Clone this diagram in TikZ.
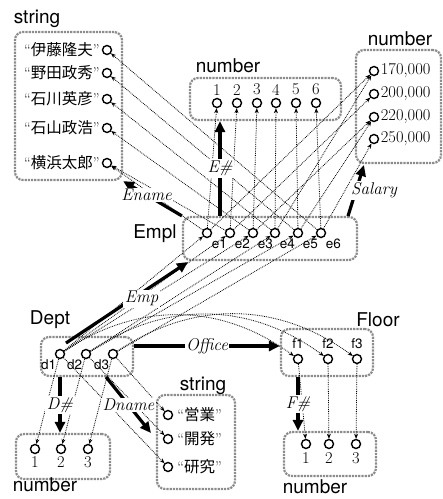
\documentclass[tikz,border=0pt]{standalone}
\usepackage{fontspec}
\setsansfont{TeX Gyre Heros}
\newfontfamily\cjk{Noto Sans CJK JP}
\usetikzlibrary{arrows.meta, positioning}

\begin{document}
\begin{tikzpicture}[
  x=1pt, y=-1pt,
  setbox/.style={
     draw=black!45,
     line width=2.2pt,
     densely dotted,
     rounded corners=8pt,
     inner sep=0pt},
  setname/.style={font=\sffamily\fontsize{19}{19}\selectfont, inner sep=0pt},
  obj/.style={
     circle,
     draw=black,
     fill=white,
     line width=1.4pt,
     inner sep=0pt,
     minimum size=9pt},
  oid/.style={font=\sffamily\fontsize{13.5}{13.5}\selectfont, inner sep=1pt},
  val/.style={font=\fontsize{16.5}{16.5}\selectfont, inner sep=1pt},
  jval/.style={font=\fontsize{15.5}{16}\selectfont, inner sep=1pt},
  attr/.style={font=\itshape\fontsize{17}{17}\selectfont, fill=white, inner sep=1.5pt},
  bigarrow/.style={line width=3.2pt, -{Triangle[length=11pt, width=10pt]}},
  link/.style={densely dotted, line width=0.8pt, -{Stealth[length=5pt, width=4pt]}}
  ]
  \useasboundingbox (0,0) rectangle (443,499);

  % sets
  \node[setbox, minimum width=107, minimum height=148] (strbox)   at (68.5,106) {};
  \node[setbox, minimum width=151, minimum height=42]  (numtop)   at (265.5,99) {};
  \node[setbox, minimum width=85,  minimum height=113] (salbox)   at (398.5,106.5) {};
  \node[setbox, minimum width=174, minimum height=43]  (emplbox)  at (270,238.5) {};
  \node[setbox, minimum width=92,  minimum height=39]  (deptbox)  at (87,356.5) {};
  \node[setbox, minimum width=94,  minimum height=45]  (dnumbox)  at (63,456.5) {};
  \node[setbox, minimum width=78,  minimum height=94]  (dstrbox)  at (196,442) {};
  \node[setbox, minimum width=92,  minimum height=47]  (floorbox) at (327,352.5) {};
  \node[setbox, minimum width=92,  minimum height=44]  (fnumbox)  at (330,454) {};

  \node[setname] (lstr)   at (37,19)  {string};
  \node[setname] (lntop)  at (228,66) {number};
  \node[setname] (lsal)   at (400,39) {number};
  \node[setname] (lempl)  at (155,234) {Empl};
  \node[setname] (ldept)  at (50,320) {Dept};
  \node[setname] (ldnum)  at (45,485) {number};
  \node[setname] (ldstr)  at (203,386) {string};
  \node[setname] (lfloor) at (378,320) {Floor};
  \node[setname] (lfnum)  at (315,487) {number};

  % objects
  \foreach \y [count=\i] in {50,73,99,128,163}
    \node[obj] (s\i) at (107,\y) {};
  \foreach \nm [count=\i] in {伊藤隆夫,野田政秀,石川英彦,石山政浩,横浜太郎}
    \node[jval, left=1pt of s\i] {“{\cjk\nm}”};

  \foreach \x [count=\i] in {217,237,257,276,296,316} {
    \node[obj] (n\i) at (\x,103) {};
    \node[val, above=1.5pt of n\i] {\i};
  }

  \foreach \y/\v [count=\i] in {71/{170,000},94/{200,000},117/{220,000},139/{250,000}} {
    \node[obj] (v\i) at (374,\y) {};
    \node[val, right=0.5pt of v\i] {\v};
  }

  \foreach \x [count=\i] in {207,230,253,275,298,321} {
    \node[obj] (e\i) at (\x,233) {};
    \node[oid, below right=1.5pt and 0pt of e\i] {e\i};
  }

  \foreach \x [count=\i] in {60,86,113} {
    \node[obj] (d\i) at (\x,354) {};
    \node[oid, below left=1pt and -1pt of d\i] {d\i};
  }

  \foreach \x [count=\i] in {35,61,88} {
    \node[obj] (dn\i) at (\x,449) {};
    \node[val, below=1.5pt of dn\i] {\i};
  }

  \foreach \y/\nm [count=\i] in {415/営業,439/開発,467/研究} {
    \node[obj] (t\i) at (168,\y) {};
    \node[jval, right=3pt of t\i] {“{\cjk\nm}”};
  }

  \foreach \x [count=\i] in {298,328,357} {
    \node[obj] (f\i) at (\x,359) {};
    \node[oid, above=4pt of f\i] {f\i};
  }

  \foreach \x [count=\i] in {306,329,356} {
    \node[obj] (fn\i) at (\x,444) {};
    \node[val, below=2.5pt of fn\i] {\i};
  }

  % values of the attributes
  \foreach \a/\b in {6/1,5/2,4/3,3/4,2/5,1/5}
    \draw[link] (e\a) -- (s\b);
  \foreach \i in {1,...,6}
    \draw[link] (e\i) -- (n\i);
  \foreach \a/\b in {1/1,2/2,3/3,4/1,5/3,6/4}
    \draw[link] (e\a) -- (v\b);
  \foreach \a/\b in {1/1,1/2,1/3,2/4,2/5,3/6}
    \draw[link] (d\a) -- (e\b);
  \foreach \i in {1,2,3}
    \draw[link] (d\i) to[bend left=35] (f\i);
  \foreach \i in {1,2,3}
    \draw[link] (d\i) -- (dn\i);
  \foreach \a/\b in {3/1,2/2,1/3}
    \draw[link] (d\a) -- (t\b);
  \foreach \i in {1,2,3}
    \draw[link] (f\i) -- (fn\i);

  % attributes
  \coordinate (ecol) at (220,0);
  \coordinate (offy) at (0,346);
  \coordinate (salS) at (348,216);
  \coordinate (salE) at (364,165);
  \coordinate (empS) at (66,343);
  \coordinate (empE) at (188,262);
  \coordinate (dnS)  at (106,377);
  \coordinate (dnE)  at (151,433);

  \draw[bigarrow] (emplbox.north west) -- node[attr, pos=0.6] {Ename} (strbox.south east);
  \draw[bigarrow] (emplbox.north -| ecol) -- node[attr] {E\#} (numtop.south -| ecol);
  \draw[bigarrow] (salS) -- node[attr, xshift=18pt] {Salary} (salE);
  \draw[bigarrow] (empS) -- node[attr, pos=0.62, yshift=-6pt] {Emp} (empE);
  \draw[bigarrow] (deptbox.east |- offy) -- node[attr] {Office} (floorbox.west |- offy);
  \draw[bigarrow] (deptbox.south -| d1) -- node[attr] {D\#} (dnumbox.north -| d1);
  \draw[bigarrow] (dnS) -- node[attr] {Dname} (dnE);
  \draw[bigarrow] (floorbox.south -| f1) -- node[attr] {F\#} (fnumbox.north -| f1);

\end{tikzpicture}
\end{document}
